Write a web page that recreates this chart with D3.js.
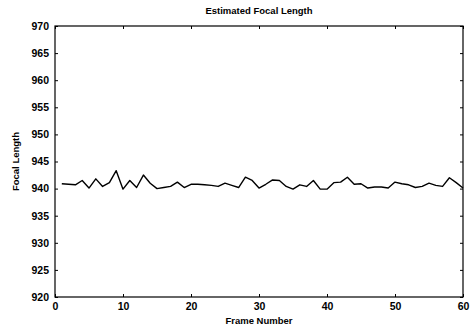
<!DOCTYPE html>
<html>
<head>
<meta charset="utf-8">
<script src="https://cdn.jsdelivr.net/npm/d3@7"></script>
<style>
  body { margin: 0; background: #fff; }
  text { font-family: "Liberation Sans", Arial, sans-serif; fill: #000; }
</style>
</head>
<body>
<div id="chart"></div>
<script>
// focal length estimate per frame (frames 1..60)
const frames = d3.range(1, 61);
const focal = [
  940.9, 940.8, 940.7, 941.5, 940.1, 941.8, 940.4, 941.1, 943.3, 939.9,
  941.5, 940.2, 942.5, 941.0, 940.0, 940.2, 940.4, 941.2, 940.2, 940.8,
  940.8, 940.7, 940.6, 940.4, 941.0, 940.6, 940.2, 942.1, 941.5, 940.1,
  940.8, 941.6, 941.5, 940.4, 939.9, 940.7, 940.4, 941.5, 939.9, 939.9,
  941.1, 941.2, 942.1, 940.8, 940.9, 940.1, 940.3, 940.3, 940.1, 941.2,
  940.9, 940.7, 940.2, 940.4, 941.0, 940.6, 940.4, 942.0, 941.1, 940.1
];
const xTicks = [0, 10, 20, 30, 40, 50, 60];
const yTicks = d3.range(920, 971, 5);

const width = 470, height = 327;
const margin = { top: 26, right: 7, bottom: 30, left: 55 };
const iw = width - margin.left - margin.right;
const ih = height - margin.top - margin.bottom;

const svg = d3.select('#chart').append('svg')
  .attr('width', width)
  .attr('height', height);

const g = svg.append('g').attr('transform', `translate(${margin.left},${margin.top})`);

const x = d3.scaleLinear().domain([0, 60]).range([0, iw]);
const y = d3.scaleLinear().domain([920, 970]).range([ih, 0]);

// inward ticks on all four sides, matlab style
const tickLen = 3;
function styleAxis(sel) {
  sel.select('.domain').remove();
  sel.selectAll('line').attr('stroke', '#000').attr('stroke-width', 1);
  sel.selectAll('text').attr('font-size', 10.5).attr('font-weight', 'bold');
}

g.append('g')
  .attr('transform', `translate(0,${ih})`)
  .call(d3.axisBottom(x).tickValues(xTicks).tickSizeInner(-tickLen).tickSizeOuter(0).tickPadding(6))
  .call(styleAxis);
g.append('g')
  .call(d3.axisTop(x).tickValues(xTicks).tickSizeInner(-tickLen).tickSizeOuter(0).tickFormat(''))
  .call(styleAxis);
g.append('g')
  .call(d3.axisLeft(y).tickValues(yTicks).tickSizeInner(-tickLen).tickSizeOuter(0).tickPadding(6))
  .call(styleAxis);
g.append('g')
  .attr('transform', `translate(${iw},0)`)
  .call(d3.axisRight(y).tickValues(yTicks).tickSizeInner(-tickLen).tickSizeOuter(0).tickFormat(''))
  .call(styleAxis);

g.append('rect')
  .attr('width', iw).attr('height', ih)
  .attr('fill', 'none').attr('stroke', '#000').attr('stroke-width', 1.2);

const line = d3.line()
  .x((d, i) => x(frames[i]))
  .y(d => y(d));

g.append('path')
  .datum(focal)
  .attr('fill', 'none')
  .attr('stroke', '#000')
  .attr('stroke-width', 1.4)
  .attr('stroke-linejoin', 'round')
  .attr('d', line);

svg.append('text')
  .attr('x', margin.left + iw / 2).attr('y', 14)
  .attr('text-anchor', 'middle')
  .attr('font-size', 9.5).attr('font-weight', 'bold')
  .text('Estimated Focal Length');

svg.append('text')
  .attr('x', margin.left + iw / 2).attr('y', 324)
  .attr('text-anchor', 'middle')
  .attr('font-size', 9.5).attr('font-weight', 'bold')
  .text('Frame Number');

svg.append('text')
  .attr('transform', `translate(19,${margin.top + ih / 2}) rotate(-90)`)
  .attr('text-anchor', 'middle')
  .attr('font-size', 9.5).attr('font-weight', 'bold')
  .text('Focal Length');
</script>
</body>
</html>
